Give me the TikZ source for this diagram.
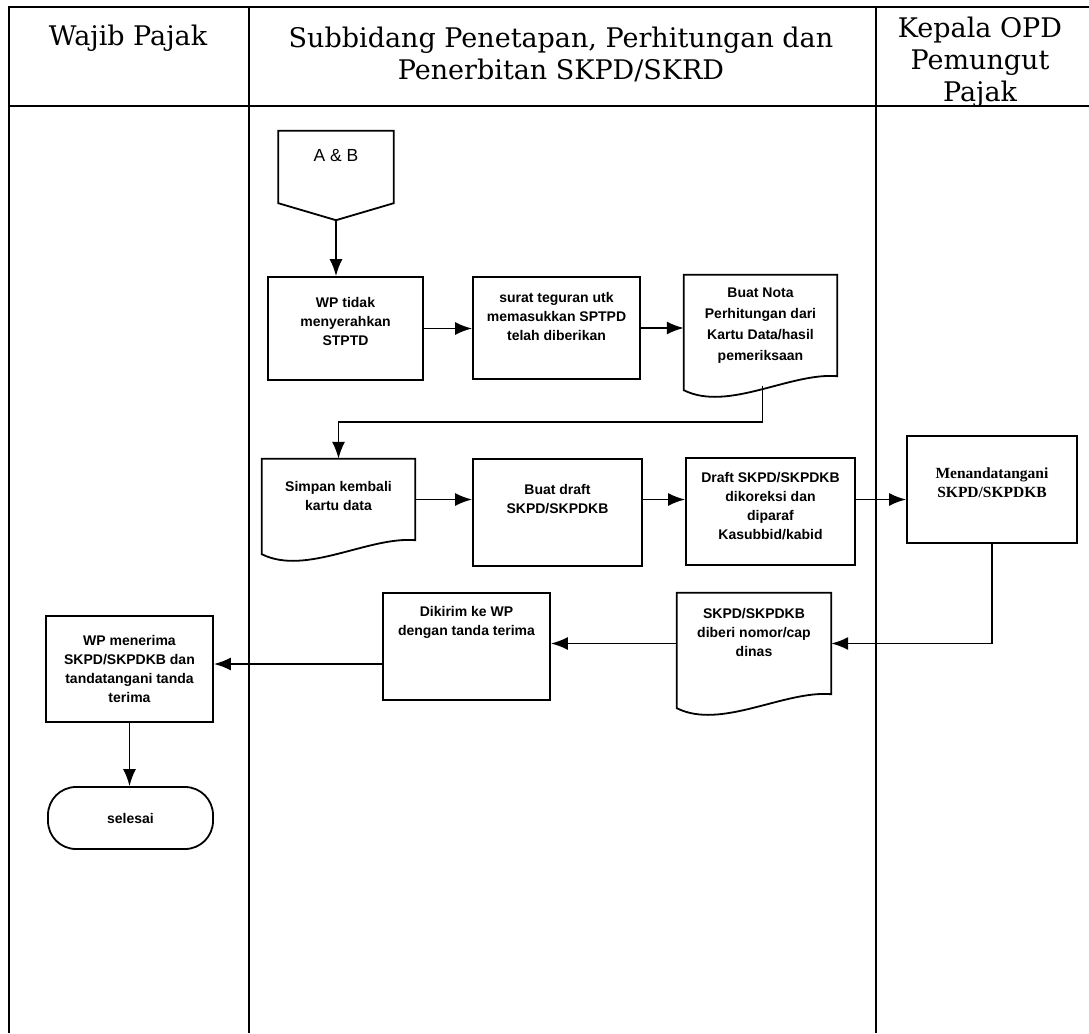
\documentclass[tikz,border=0pt]{standalone}
\usepackage{fontspec}
\usepackage{tikz}
\usetikzlibrary{arrows.meta,calc,positioning}

\newfontfamily\lanefam{DejaVu Serif}
\newfontfamily\boxfam{Liberation Sans}
\newfontfamily\signfam{Liberation Serif}

\tikzset{%
	lane/.style      = {line width=1.5pt},
	lanetitle/.style = {align=center, font=\lanefam\fontsize{27}{32}\selectfont},
	offpage/.style   = {rectangle, minimum width=115pt, minimum height=72pt, align=center, font=\boxfam\fontsize{17.5}{19}\selectfont},
	process/.style   = {draw, rectangle, line width=1.8pt, align=center, font=\boxfam\bfseries\fontsize{14}{19}\selectfont},
	docbox/.style    = {rectangle, align=center, font=\boxfam\bfseries\fontsize{14}{19}\selectfont},
	startstop/.style = {draw, rectangle, rounded corners=28pt, line width=1.8pt, font=\boxfam\bfseries\fontsize{14}{19}\selectfont},
	arrow/.style     = {line width=1.8pt, -{Latex[length=17pt,width=13pt]}},
}

\newcommand{\docoutline}[1]{%
	\draw[line width=1.8pt] (#1.south west) -- (#1.north west) -- (#1.north east) -- (#1.south east)
		.. controls ($(#1.south east)+(-47,-4)$) and ($(#1.south west)+(44,36)$) .. ($(#1.south west)+(0,14)$) -- cycle;}

\begin{document}
\begin{tikzpicture}[x=1pt,y=-1pt]
	\useasboundingbox (0,0) rectangle (1089,1033);
	
	% swimlanes
	\draw[lane] (1089,7) -- (9,7) -- (9,1033);
	\draw[lane] (9,106) -- (1089,106);
	\draw[lane] (249,7) -- (249,1033);
	\draw[lane] (876,7) -- (876,1033);
	\node[lanetitle] (wp)  at (128,38) {Wajib Pajak};
	\node[lanetitle] (sub) at (561,54) {Subbidang Penetapan, Perhitungan dan\\Penerbitan SKPD/SKRD};
	\node[lanetitle] (kep) at (980,62) {Kepala OPD\\Pemungut\\Pajak};
	
	% off-page connector
	\node[offpage] (ab) at (336,167) {A \& B\\[5pt]};
	\draw[line width=1.8pt] (ab.south west) -- (ab.north west) -- (ab.north east) -- (ab.south east) -- ($(ab.south)+(0,17)$) coordinate (abtip) -- cycle;
	
	% first row
	\node[process, minimum width=155pt, minimum height=103pt] (tidak) at (345.5,328.5) {WP tidak\\menyerahkan\\STPTD\\[-4pt]};
	\node[process, minimum width=167pt, minimum height=102pt] (teguran) at (556.5,328) {surat teguran utk\\memasukkan SPTPD\\telah diberikan\\[5pt]};
	\node[docbox, minimum width=153pt, minimum height=101pt, font=\boxfam\bfseries\fontsize{14}{21}\selectfont] (nota) at (760.5,325.5) {Buat Nota\\Perhitungan dari\\Kartu Data/hasil\\pemeriksaan};
	\docoutline{nota}
	
	% second row
	\node[docbox, minimum width=153pt, minimum height=81pt] (simpan) at (338.5,499.5) {Simpan kembali\\kartu data\\[-11pt]};
	\docoutline{simpan}
	\node[process, minimum width=169pt, minimum height=107pt] (draft) at (557.5,512.5) {Buat draft\\SKPD/SKPDKB\\[9pt]};
	\node[process, minimum width=169pt, minimum height=107pt] (koreksi) at (770.5,511.5) {Draft SKPD/SKPDKB\\dikoreksi dan\\diparaf\\Kasubbid/kabid\\[-8pt]};
	\node[process, minimum width=170pt, minimum height=107pt, font=\signfam\bfseries\fontsize{15.5}{19}\selectfont] (ttd) at (992,489.5) {Menandatangani\\SKPD/SKPDKB\\[-5pt]};
	
	% third row
	\node[docbox, minimum width=154pt, minimum height=101pt] (nomor) at (754,643.5) {SKPD/SKPDKB\\diberi nomor/cap\\dinas\\[4pt]};
	\docoutline{nomor}
	\node[process, minimum width=167pt, minimum height=107pt] (kirim) at (466.5,646.5) {Dikirim ke WP\\dengan tanda terima\\[33pt]};
	\node[process, minimum width=167pt, minimum height=106pt] (terima) at (129.5,669) {WP menerima\\SKPD/SKPDKB dan\\tandatangani tanda\\terima};
	\node[startstop, minimum width=165pt, minimum height=62pt] (selesai) at (130.5,818) {selesai};
	
	% connectors
	\draw[arrow] (abtip) -- (abtip |- tidak.north);
	\draw[arrow] (tidak.east) -- (tidak.east -| teguran.west);
	\draw[arrow] (teguran.east) -- (teguran.east -| nota.west);
	\draw[arrow] ($(nota.south)+(2,10)$) |- ($(simpan.north)+(0,-37)$) -- (simpan.north);
	\draw[arrow] (simpan.east) -- (simpan.east -| draft.west);
	\draw[arrow] (simpan.east -| draft.east) -- (simpan.east -| koreksi.west);
	\draw[arrow] (simpan.east -| koreksi.east) -- (simpan.east -| ttd.west);
	\draw[arrow] (ttd.south) |- (nomor.east);
	\draw[arrow] (nomor.west) -- (nomor.west -| kirim.east);
	\draw[arrow] ($(kirim.west |- terima.east)+(0,-5)$) -- ($(terima.east)+(0,-5)$);
	\draw[arrow] (terima.south) -- (terima.south |- selesai.north);
\end{tikzpicture}
\end{document}
